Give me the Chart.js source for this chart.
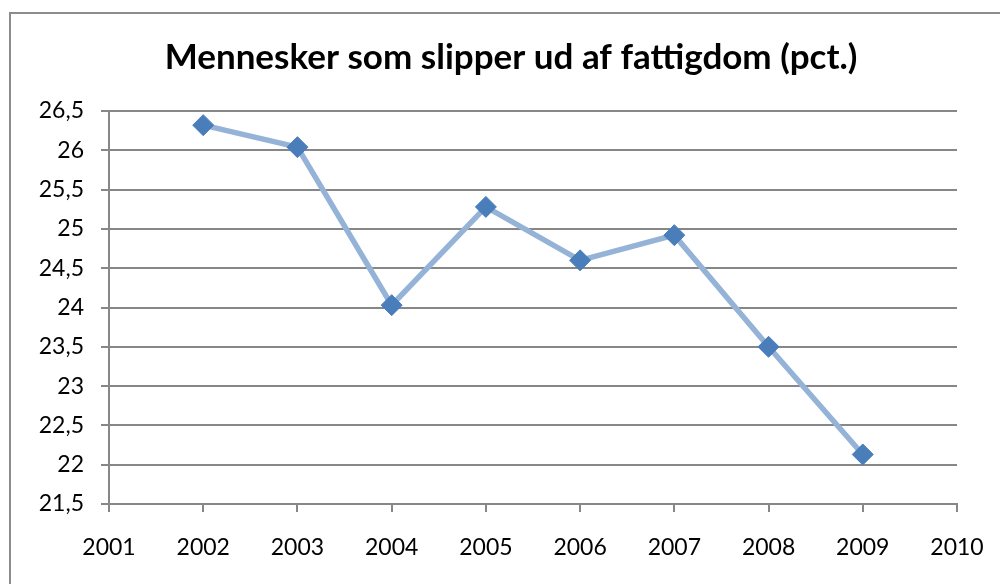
<!DOCTYPE html>
<html><head><meta charset="utf-8">
<script src="https://cdn.jsdelivr.net/npm/chart.js@4/dist/chart.umd.min.js"></script>
<style>html,body{margin:0;padding:0;background:#fff}#wrap{position:absolute;left:0;top:0;width:1000px;height:584px}</style>
</head><body><div id="wrap"><canvas id="c" width="1000" height="584"></canvas></div>
<script>
const years = [2002, 2003, 2004, 2005, 2006, 2007, 2008, 2009];
const values = [26.32, 26.04, 24.03, 25.28, 24.6, 24.92, 23.5, 22.13];
const xTicks = [2001, 2002, 2003, 2004, 2005, 2006, 2007, 2008, 2009, 2010];
const yMin = 21.5, yMax = 26.5, yStep = 0.5;
const title = 'Mennesker som slipper ud af fattigdom (pct.)';

const frame = {
  id: 'frame',
  beforeDraw(chart) {
    const ctx = chart.ctx;
    ctx.save();
    ctx.fillStyle = '#fff';
    ctx.fillRect(0, 0, chart.width, chart.height);
    ctx.strokeStyle = '#8c8c8c';
    ctx.lineWidth = 2;
    ctx.strokeRect(10, 13, 1010, 600);
    ctx.restore();
  }
};
const grey = '#878787';
new Chart(document.getElementById('c'), {
  type: 'line',
  data: {
    datasets: [{
      data: years.map((y, i) => ({x: y, y: values[i]})),
      borderColor: '#95b3d7',
      borderWidth: 5.5,
      pointStyle: 'rectRot',
      pointRadius: 10.5,
      pointBackgroundColor: '#4a7ebb',
      pointBorderColor: '#4a7ebb',
      pointBorderWidth: 1,
      tension: 0
    }]
  },
  options: {
    responsive: false,
    animation: false,
    layout: {padding: {left: 22, right: 0, top: 0, bottom: 0}},
    plugins: {
      legend: {display: false},
      tooltip: {enabled: false},
      title: {
        display: true, text: title, color: '#000',
        font: {family: 'Lato', size: 35, weight: 'bold', lineHeight: 1.2},
        padding: {top: 37, bottom: 32}
      }
    },
    scales: {
      x: {
        type: 'linear', min: 2001, max: 2010,
        afterBuildTicks: s => { s.ticks = xTicks.map(v => ({value: v})); },
        afterFit: s => { s.height = 80; s.paddingLeft = 0; s.paddingRight = 0; },
        grid: {display: true, drawOnChartArea: false, drawTicks: true, tickLength: 8, color: grey, lineWidth: 2},
        border: {display: true, color: grey, width: 2},
        ticks: {color: '#000', font: {family: 'Lato', size: 23}, padding: 22, maxRotation: 0, callback: v => String(v)}
      },
      y: {
        min: yMin, max: yMax,
        afterFit: s => { s.width = 87; },
        grid: {display: true, drawOnChartArea: true, drawTicks: true, tickLength: 8, color: grey, lineWidth: 2},
        border: {display: true, color: grey, width: 2},
        ticks: {stepSize: yStep, color: '#000', font: {family: 'Lato', size: 23}, padding: 17,
          callback: v => String(Math.round(v * 10) / 10).replace('.', ',')}
      },
      yRight: {
        position: 'right', min: yMin, max: yMax,
        afterFit: s => { s.width = 43; },
        grid: {display: false, drawOnChartArea: false},
        border: {display: false},
        ticks: {display: false}
      }
    }
  },
  plugins: [frame]
});
</script></body></html>
